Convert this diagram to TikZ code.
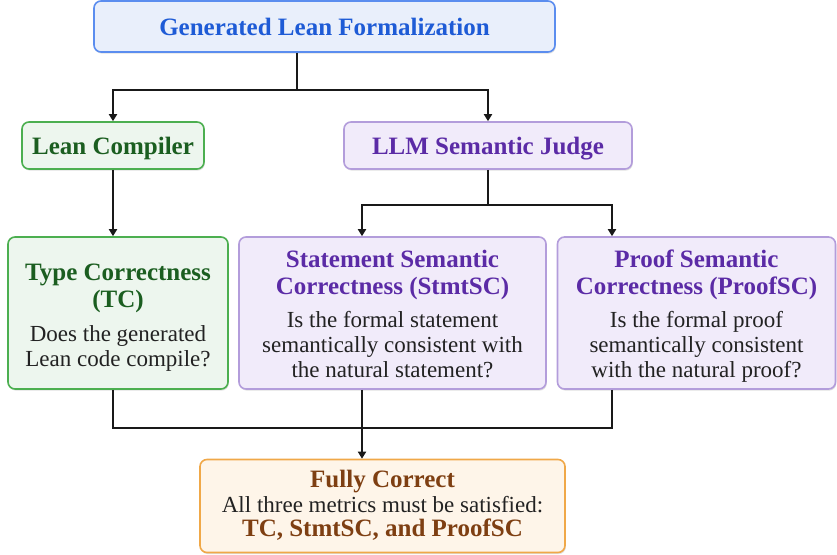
\documentclass[tikz,border=0pt]{standalone}
\usepackage{fontspec}
\setmainfont{Liberation Serif}
\usetikzlibrary{arrows.meta,shadows}
\definecolor{bluefill}{HTML}{E9EFFB}
\definecolor{blueline}{HTML}{5B8DEF}
\definecolor{bluetext}{HTML}{1E5BD6}
\definecolor{greenfill}{HTML}{EDF6EE}
\definecolor{greenline}{HTML}{4CAF50}
\definecolor{greentext}{HTML}{1B5E20}
\definecolor{purplefill}{HTML}{F1EBFA}
\definecolor{purpleline}{HTML}{B39DDB}
\definecolor{purpletext}{HTML}{5B2BA6}
\definecolor{orangefill}{HTML}{FEF5E9}
\definecolor{orangeline}{HTML}{F0A848}
\definecolor{orangetext}{HTML}{7E3F12}
\definecolor{bodytext}{HTML}{222222}
\tikzset{
  box/.style={rectangle, draw, line width=1.6pt, rounded corners=7pt, inner sep=0pt,
    drop shadow={shadow xshift=0.8pt, shadow yshift=-1.6pt, opacity=0.12, fill=black}},
  bluebox/.style={box, fill=bluefill, draw=blueline},
  greenbox/.style={box, fill=greenfill, draw=greenline},
  purplebox/.style={box, fill=purplefill, draw=purpleline},
  orangebox/.style={box, fill=orangefill, draw=orangeline},
  ttl/.style={anchor=base, inner sep=0pt, font=\fontsize{25}{29}\selectfont\bfseries},
  bdy/.style={anchor=base, inner sep=0pt, text=bodytext, font=\fontsize{23}{27}\selectfont},
  conn/.style={line width=2pt, black!90},
  arr/.style={conn, -{Triangle[length=7pt,width=8pt]}}
}
\begin{document}
\begin{tikzpicture}[x=1pt,y=-1pt]
\useasboundingbox (0,0) rectangle (837,554);
% boxes
\node[bluebox, minimum width=461pt, minimum height=51pt] (gen) at (324.5,26.5) {};
\node[greenbox, minimum width=182pt, minimum height=47pt] (lean) at (113,145.5) {};
\node[purplebox, minimum width=288pt, minimum height=47pt] (llm) at (488,145.5) {};
\node[greenbox, minimum width=220pt, minimum height=152pt] (tc) at (118,313) {};
\node[purplebox, minimum width=307pt, minimum height=152pt] (stmt) at (392.5,313) {};
\node[purplebox, minimum width=278pt, minimum height=152pt] (proof) at (696.5,313) {};
\node[orangebox, minimum width=365pt, minimum height=93pt] (full) at (382.5,506) {};
% texts
\node[ttl, text=bluetext] (tgen) at (324.5,35) {Generated Lean Formalization};
\node[ttl, text=greentext] (tlean) at (113,154) {Lean Compiler};
\node[ttl, text=purpletext] (tllm) at (488,154) {LLM Semantic Judge};
\node[ttl, text=greentext] (ttc1) at (118,280) {Type Correctness};
\node[ttl, text=greentext] (ttc2) at (118,307) {(TC)};
\node[bdy] (btc1) at (118,341) {Does the generated};
\node[bdy] (btc2) at (118,366) {Lean code compile?};
\node[ttl, text=purpletext] (ts1) at (392.5,267) {Statement Semantic};
\node[ttl, text=purpletext] (ts2) at (392.5,294) {Correctness (StmtSC)};
\node[bdy] (bs1) at (392.5,327) {Is the formal statement};
\node[bdy] (bs2) at (392.5,352) {semantically consistent with};
\node[bdy] (bs3) at (392.5,377) {the natural statement?};
\node[ttl, text=purpletext] (tp1) at (696.5,267) {Proof Semantic};
\node[ttl, text=purpletext] (tp2) at (696.5,294) {Correctness (ProofSC)};
\node[bdy] (bp1) at (696.5,327) {Is the formal proof};
\node[bdy] (bp2) at (696.5,352) {semantically consistent};
\node[bdy] (bp3) at (696.5,377) {with the natural proof?};
\node[ttl, text=orangetext] (tf1) at (382.5,487) {Fully Correct};
\node[bdy] (bf1) at (382.5,512) {All three metrics must be satisfied:};
\node[ttl, text=orangetext] (tf2) at (382.5,536) {TC, StmtSC, and ProofSC};
% connector coordinates
\coordinate (j1) at (297,90);
\coordinate (j2) at (488,205);
\coordinate (xl) at (113,0);
\coordinate (xs) at (362,0);
\coordinate (xp) at (612,0);
\coordinate (j3) at (362,428);
% connectors
\draw[conn] (gen.south -| j1) -- (j1);
\draw[arr] (j1) -| (lean.north);
\draw[arr] (j1) -| (llm.north);
\draw[arr] (lean.south) -- (tc.north -| xl);
\draw[conn] (llm.south) -- (j2);
\draw[arr] (j2) -| (stmt.north -| xs);
\draw[arr] (j2) -| (proof.north -| xp);
\draw[conn] (tc.south -| xl) |- (j3);
\draw[conn] (proof.south -| xp) |- (j3);
\draw[conn] (stmt.south -| xs) -- (j3);
\draw[arr] (j3) -- (full.north -| j3);
\end{tikzpicture}
\end{document}
